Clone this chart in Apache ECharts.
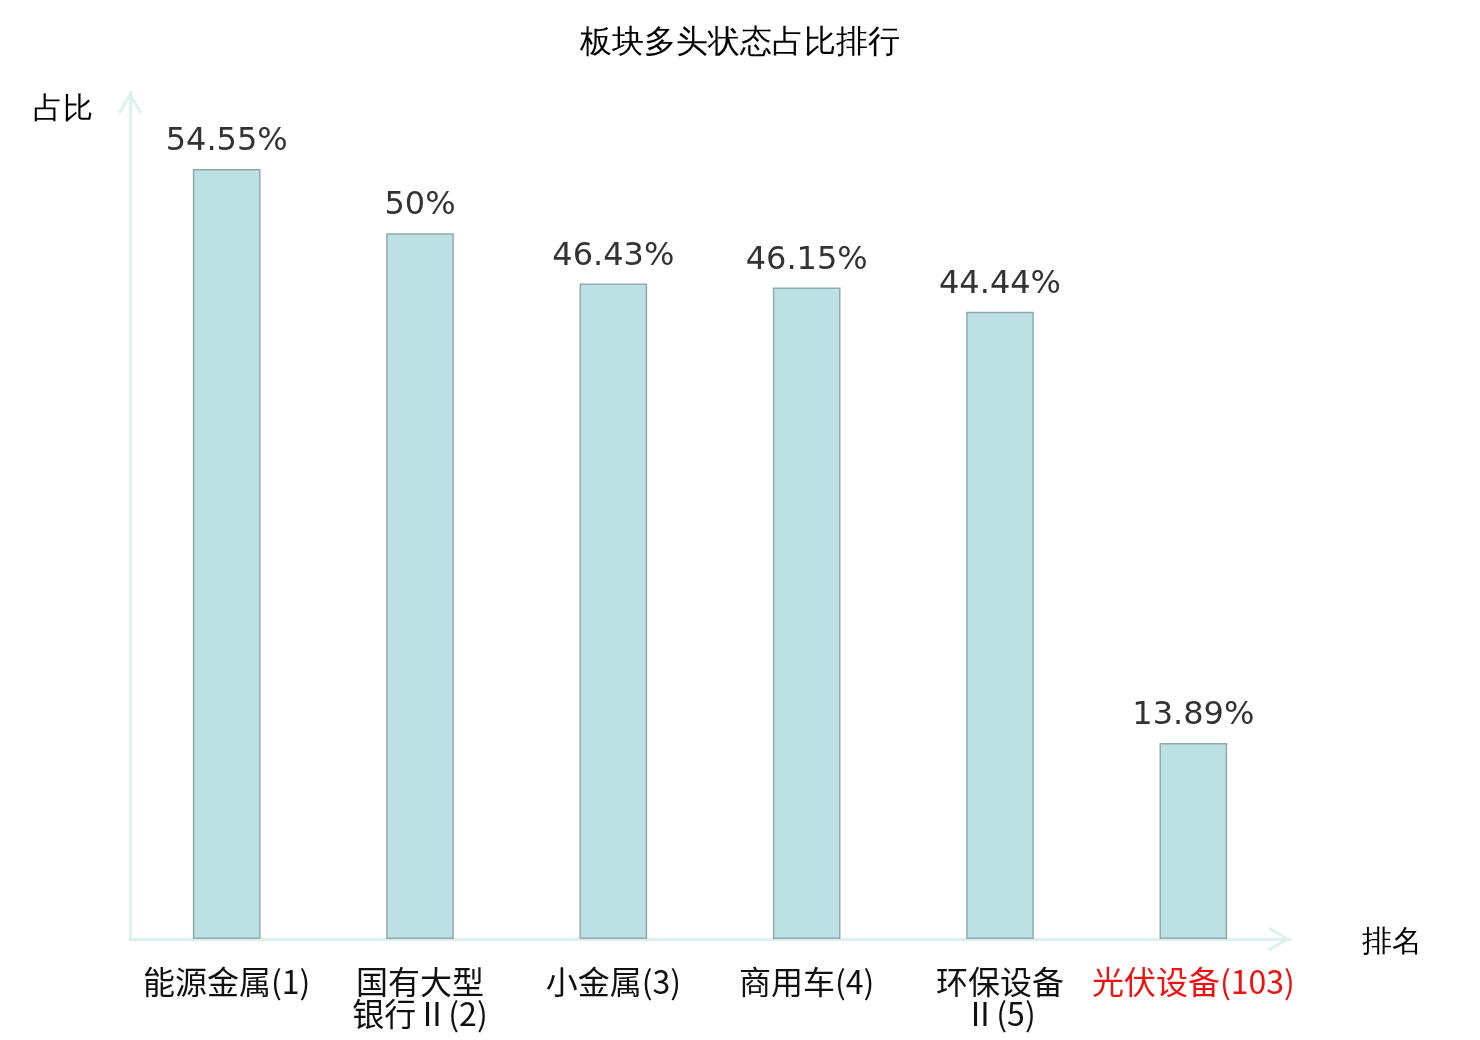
<!DOCTYPE html>
<html>
<head>
<meta charset="utf-8">
<title>板块多头状态占比排行</title>
<script src="https://cdn.jsdelivr.net/npm/echarts@6/dist/echarts.min.js"></script>
<style>
  html, body { margin: 0; padding: 0; background: #fff; }
  #chart { width: 1480px; height: 1040px; }
</style>
</head>
<body>
<div id="chart"></div>
<script>
var names = ['能源金属', '国有大型银行Ⅱ', '小金属', '商用车', '环保设备Ⅱ', '光伏设备'];
var ranks = [1, 2, 3, 4, 5, 103];
var values = [54.55, 50, 46.43, 46.15, 44.44, 13.89];
var highlightIndex = 5;

// long names go on two lines, four characters per line
var categories = names.map(function (n, i) {
    var s = n + '(' + ranks[i] + ')';
    if (n.length > 4) {
        s = n.slice(0, 4) + '\n' + n.slice(4) + '(' + ranks[i] + ')';
    }
    return s;
});

var chevron = 'path://M12,0 L24,20 L21.6,22 L12,5.2 L2.4,22 L0,20 Z';
var axisColor = '#dcf1ee';

var myChart = echarts.init(document.getElementById('chart'));
var option = {
    backgroundColor: '#fff',
    title: {
        text: '板块多头状态占比排行',
        left: 'center',
        top: 22,
        textStyle: { fontSize: 32, fontWeight: 'normal', color: '#000' }
    },
    grid: { left: 130, right: 190, top: 92, bottom: 101 },
    xAxis: {
        type: 'category',
        data: categories,
        name: '排名',
        nameGap: 72,
        nameTextStyle: { fontSize: 30, color: '#000', verticalAlign: 'top', padding: [-11, 0, 0, 0] },
        axisLine: {
            lineStyle: { color: axisColor, width: 3 },
            symbol: ['none', chevron],
            symbolSize: [24, 22],
            symbolOffset: [0, -11]
        },
        axisTick: { show: false },
        axisLabel: {
            interval: 0,
            margin: 27,
            fontSize: 32,
            lineHeight: 32,
            fontFamily: 'Noto Sans CJK SC',
            color: function (value, index) {
                return index === highlightIndex ? '#ee1111' : '#111';
            }
        }
    },
    yAxis: {
        type: 'value',
        min: 0,
        max: 60,
        name: '占比',
        nameGap: -18,
        nameTextStyle: { fontSize: 30, color: '#000', align: 'right', verticalAlign: 'middle', padding: [0, 37, 0, 0] },
        axisLine: {
            show: true,
            lineStyle: { color: axisColor, width: 3 },
            symbol: ['none', chevron],
            symbolSize: [24, 22],
            symbolOffset: [0, -11]
        },
        axisTick: { show: false },
        axisLabel: { show: false },
        splitLine: { show: false }
    },
    series: [{
        type: 'bar',
        data: values,
        barWidth: '35%',
        itemStyle: { color: '#bce0e3', borderColor: '#8fabab', borderWidth: 1.5 },
        label: {
            show: true,
            position: 'top',
            distance: 11,
            fontSize: 32,
            color: '#333',
            fontFamily: 'DejaVu Sans',
            formatter: '{c}%'
        }
    }]
};
myChart.setOption(option);
</script>
</body>
</html>
